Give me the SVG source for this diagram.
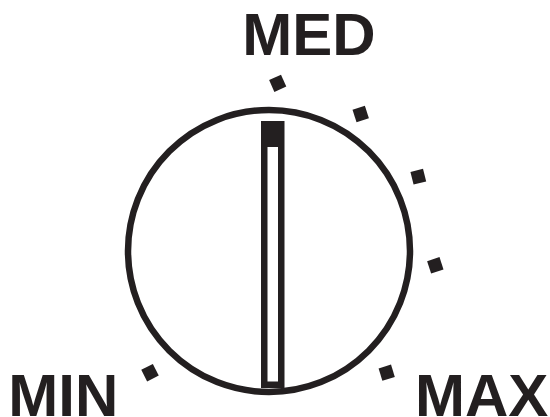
<svg xmlns="http://www.w3.org/2000/svg" width="550" height="417" viewBox="0 0 550 417">
  <style>
    .lbl { font-family: "Liberation Sans", Arial, sans-serif; font-weight: bold; font-size: 60px; fill: #231f20; }
    .tick { fill: #231f20; }
  </style>
  <defs>
    <rect id="sq" class="tick" x="-6.5" y="-6.5" width="13" height="13"/>
  </defs>
  <rect width="550" height="417" fill="#ffffff"/>
  <g id="dial">
    <circle cx="269" cy="251" r="141" fill="none" stroke="#231f20" stroke-width="6.5"/>
  </g>
  <g id="pointer">
    <path fill="#231f20" fill-rule="evenodd" d="M261,121 H284.5 V388 H261 Z M267.5,147 V381.5 H278 V147 Z"/>
  </g>
  <g id="ticks">
    <use href="#sq" transform="translate(150,372.7) rotate(-27)"/>
    <use href="#sq" transform="translate(277.7,83.3) rotate(-24)"/>
    <use href="#sq" transform="translate(360.7,114) rotate(-18)"/>
    <use href="#sq" transform="translate(418.3,176.7) rotate(-14)"/>
    <use href="#sq" transform="translate(435.3,265.3) rotate(-18)"/>
    <use href="#sq" transform="translate(386.7,372.7) rotate(-17)"/>
  </g>
  <g id="labels">
    <text class="lbl" x="242.3" y="55">MED</text>
    <text class="lbl" x="8.3" y="416">MIN</text>
    <text class="lbl" x="415" y="416">MAX</text>
  </g>
</svg>
